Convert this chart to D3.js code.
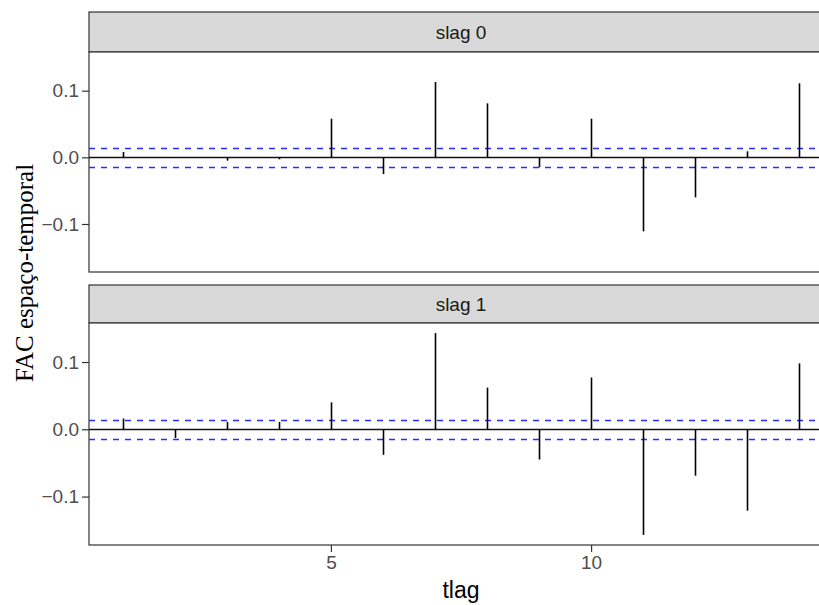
<!DOCTYPE html>
<html>
<head>
<meta charset="utf-8">
<script src="https://cdn.jsdelivr.net/npm/d3@7"></script>
<style>
  body { margin: 0; background: #fff; }
  svg { display: block; }
</style>
</head>
<body>
<svg id="chart" width="819" height="605"></svg>
<script>
// tlag values (x)
const lags = [1, 2, 3, 4, 5, 6, 7, 8, 9, 10, 11, 12, 13, 14];
// space-time ACF, one array per spatial lag
const slag0 = [0.008, 0.000, -0.005, -0.003, 0.058, -0.025, 0.113, 0.081, -0.015, 0.058, -0.111, -0.060, 0.009, 0.111];
const slag1 = [0.016, -0.013, 0.011, 0.011, 0.040, -0.038, 0.143, 0.062, -0.045, 0.077, -0.157, -0.069, -0.121, 0.098];
const panelNames = ["slag 0", "slag 1"];
const ciBound = 0.0145;
const yTicks = [-0.1, 0.0, 0.1];
const xTicks = [5, 10];

const series = [slag0, slag1];
const svg = d3.select("#chart");

const left = 89, right = 833;
const panels = [
  { stripTop: 12, top: 52, bottom: 272 },
  { stripTop: 285, top: 323, bottom: 545 }
];

const xScale = d3.scaleLinear().domain([0.35, 14.65]).range([left, right]);
const snap = v => Math.round(v) + 0.5;

panels.forEach((p, pi) => {
  const yScale = d3.scaleLinear().domain([-0.172, 0.158]).range([p.bottom, p.top]);
  const g = svg.append("g");

  // strip
  g.append("rect")
    .attr("x", left).attr("y", p.stripTop)
    .attr("width", right - left).attr("height", p.top - p.stripTop)
    .attr("fill", "#d9d9d9").attr("stroke", "#333").attr("stroke-width", 1.2);
  g.append("text")
    .attr("x", (left + right) / 2).attr("y", (p.stripTop + p.top) / 2 + 7)
    .attr("text-anchor", "middle")
    .style("font-family", "Liberation Sans, Arial, sans-serif")
    .style("font-size", "19px").attr("fill", "#1a1a1a")
    .text(panelNames[pi]);

  // panel
  g.append("rect")
    .attr("x", left).attr("y", p.top)
    .attr("width", right - left).attr("height", p.bottom - p.top)
    .attr("fill", "#fff").attr("stroke", "#333").attr("stroke-width", 1.2);

  // zero line
  g.append("line")
    .attr("x1", left).attr("x2", right)
    .attr("y1", snap(yScale(0))).attr("y2", snap(yScale(0)))
    .attr("stroke", "#111").attr("stroke-width", 1.4);

  // confidence band
  g.selectAll("line.ci").data([ciBound, -ciBound]).join("line")
    .attr("class", "ci")
    .attr("x1", left).attr("x2", right)
    .attr("y1", d => snap(yScale(d))).attr("y2", d => snap(yScale(d)))
    .attr("stroke", "#2b2bff").attr("stroke-width", 1.6)
    .attr("stroke-dasharray", "6,6");

  // spikes
  g.selectAll("line.bar").data(lags).join("line")
    .attr("class", "bar")
    .attr("x1", d => snap(xScale(d))).attr("x2", d => snap(xScale(d)))
    .attr("y1", yScale(0))
    .attr("y2", (d, i) => yScale(series[pi][i]))
    .attr("stroke", "#000").attr("stroke-width", 1.6);

  // y axis
  const yAxis = d3.axisLeft(yScale).tickValues(yTicks).tickFormat(d3.format(".1f")).tickSize(7).tickPadding(3);
  const ya = g.append("g").attr("transform", `translate(${left},0)`).call(yAxis);
  ya.select(".domain").remove();
  ya.selectAll(".tick line").attr("stroke", "#333").attr("stroke-width", 1.2);
  ya.selectAll(".tick text")
    .style("font-family", "Liberation Sans, Arial, sans-serif")
    .style("font-size", "19px").attr("fill", "#4d4d4d");

  // x axis only on bottom panel
  if (pi === panels.length - 1) {
    const xAxis = d3.axisBottom(xScale).tickValues(xTicks).tickSize(7).tickPadding(4);
    const xa = g.append("g").attr("transform", `translate(0,${p.bottom})`).call(xAxis);
    xa.select(".domain").remove();
    xa.selectAll(".tick line").attr("stroke", "#333").attr("stroke-width", 1.2);
    xa.selectAll(".tick text")
      .style("font-family", "Liberation Sans, Arial, sans-serif")
      .style("font-size", "19px").attr("fill", "#4d4d4d");
  }
});

// axis titles
svg.append("text")
  .attr("x", (left + right) / 2).attr("y", 598)
  .attr("text-anchor", "middle")
  .style("font-family", "Liberation Sans, Arial, sans-serif")
  .style("font-size", "23px").attr("fill", "#000")
  .text("tlag");

svg.append("text")
  .attr("transform", "translate(33,273) rotate(-90)")
  .attr("text-anchor", "middle")
  .style("font-family", "Liberation Serif, Times New Roman, serif")
  .style("font-size", "25px").attr("fill", "#000")
  .text("FAC espaço-temporal");
</script>
</body>
</html>
